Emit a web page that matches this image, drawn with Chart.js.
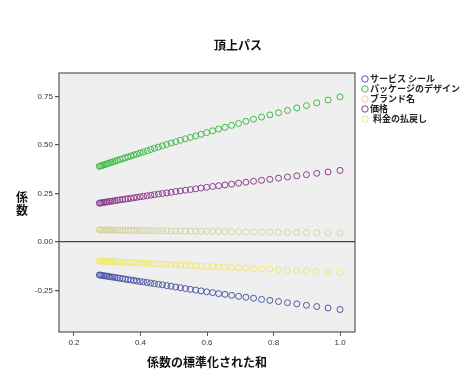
<!DOCTYPE html>
<html><head><meta charset="utf-8">
<script src="https://cdn.jsdelivr.net/npm/chart.js@4/dist/chart.umd.min.js"></script>
<style>html,body{margin:0;padding:0;background:#fff;}canvas{display:block;}</style>
</head><body>
<canvas id="c" width="475" height="380"></canvas>
<script>
const chartTitle = '頂上パス';
const xTitle = '係数の標準化された和';
const yTitle = ['係', '数'];
const seriesNames = ['サービス シール', 'パッケージのデザイン', 'ブランド名', '価格', '料金の払戻し'];
const xTicks = [0.2, 0.4, 0.6, 0.8, 1.0];
const yTicks = [-0.25, 0.0, 0.25, 0.5, 0.75];

const xs = [0.276,0.280,0.284,0.289,0.294,0.299,0.305,0.311,0.317,0.324,0.331,0.338,0.346,0.354,0.362,0.371,0.380,0.389,0.399,0.409,0.420,0.431,0.442,0.454,0.466,0.479,0.492,0.506,0.520,0.535,0.550,0.566,0.582,0.599,0.617,0.635,0.654,0.674,0.695,0.717,0.740,0.764,0.789,0.815,0.842,0.870,0.899,0.930,0.964,1.000];

const serviceSeal = [-0.170,-0.171,-0.172,-0.174,-0.175,-0.176,-0.178,-0.180,-0.181,-0.183,-0.185,-0.187,-0.189,-0.191,-0.194,-0.196,-0.198,-0.201,-0.204,-0.206,-0.209,-0.212,-0.215,-0.218,-0.221,-0.225,-0.228,-0.232,-0.236,-0.240,-0.244,-0.248,-0.252,-0.257,-0.261,-0.266,-0.270,-0.275,-0.280,-0.285,-0.290,-0.296,-0.301,-0.307,-0.313,-0.319,-0.326,-0.333,-0.340,-0.348];
const packageDesign = [0.390,0.392,0.394,0.397,0.400,0.403,0.406,0.410,0.413,0.417,0.421,0.425,0.429,0.434,0.438,0.443,0.448,0.453,0.459,0.464,0.470,0.477,0.483,0.489,0.496,0.503,0.510,0.517,0.524,0.532,0.539,0.547,0.555,0.564,0.573,0.582,0.591,0.601,0.611,0.622,0.633,0.644,0.655,0.666,0.678,0.691,0.703,0.717,0.732,0.748];
const brandName = [0.062,0.062,0.062,0.062,0.062,0.062,0.061,0.061,0.061,0.061,0.061,0.061,0.061,0.060,0.060,0.060,0.060,0.060,0.059,0.059,0.059,0.059,0.058,0.058,0.058,0.058,0.057,0.057,0.057,0.056,0.056,0.056,0.055,0.055,0.055,0.054,0.054,0.053,0.053,0.052,0.052,0.051,0.051,0.050,0.050,0.049,0.048,0.048,0.047,0.046];
const price = [0.200,0.201,0.202,0.204,0.205,0.206,0.208,0.210,0.211,0.213,0.215,0.217,0.219,0.221,0.223,0.225,0.228,0.230,0.233,0.235,0.238,0.241,0.244,0.247,0.250,0.253,0.256,0.260,0.263,0.267,0.270,0.274,0.278,0.282,0.286,0.290,0.294,0.298,0.303,0.308,0.313,0.318,0.323,0.329,0.335,0.341,0.347,0.354,0.361,0.369];
const refund = [-0.098,-0.098,-0.099,-0.099,-0.100,-0.100,-0.101,-0.101,-0.102,-0.102,-0.103,-0.103,-0.104,-0.105,-0.105,-0.106,-0.107,-0.108,-0.108,-0.109,-0.110,-0.111,-0.112,-0.113,-0.114,-0.115,-0.116,-0.117,-0.118,-0.120,-0.121,-0.122,-0.124,-0.125,-0.127,-0.128,-0.130,-0.131,-0.133,-0.135,-0.137,-0.139,-0.141,-0.143,-0.145,-0.148,-0.150,-0.153,-0.156,-0.159];

const seriesValues = [serviceSeal, packageDesign, brandName, price, refund];
const seriesColors = ['#4d58a8', '#3fbb48', '#d8d5a2', '#8c3d90', '#eeea6e'];

const JP = '"Noto Sans CJK JP", sans-serif';
const NUM = '"Liberation Sans", Arial, sans-serif';

const datasets = seriesNames.map((name, k) => ({
  label: name,
  data: xs.map((x, i) => ({x: x, y: seriesValues[k][i]})),
  showLine: false,
  pointStyle: 'circle',
  pointRadius: 3,
  pointBorderWidth: 1,
  borderColor: seriesColors[k],
  backgroundColor: 'rgba(0,0,0,0)',
  pointBackgroundColor: 'rgba(0,0,0,0)',
  pointBorderColor: seriesColors[k]
}));

const decor = {
  id: 'decor',
  beforeDraw(chart) {
    const a = chart.chartArea, ctx = chart.ctx;
    ctx.save();
    ctx.fillStyle = '#efefef';
    ctx.fillRect(a.left, a.top, a.right - a.left, a.bottom - a.top);
    ctx.restore();
  },
  afterDatasetsDraw(chart) {
    const a = chart.chartArea, ctx = chart.ctx;
    ctx.save();
    ctx.strokeStyle = '#555';
    ctx.lineWidth = 1.2;
    ctx.strokeRect(a.left, a.top, a.right - a.left, a.bottom - a.top);
    ctx.restore();
  },
  afterDraw(chart) {
    const a = chart.chartArea, ctx = chart.ctx;
    ctx.save();
    ctx.fillStyle = '#111';
    ctx.textAlign = 'center';
    ctx.textBaseline = 'middle';
    ctx.font = 'bold 12px ' + JP;
    ctx.fillText(chartTitle, 238, 45);
    ctx.font = 'bold 12px ' + JP;
    yTitle.forEach((ch, i) => ctx.fillText(ch, 22, 197 + i * 13));
    // legend
    ctx.textAlign = 'left';
    ctx.font = 'bold 9px ' + JP;
    seriesNames.forEach((name, k) => {
      const y = 79 + k * 10;
      ctx.beginPath();
      ctx.arc(365, y, 3.2, 0, Math.PI * 2);
      ctx.strokeStyle = seriesColors[k];
      ctx.lineWidth = 1;
      ctx.stroke();
      ctx.fillStyle = '#222';
      ctx.fillText(name, k === 4 ? 373 : 370, y);
    });
    ctx.restore();
  }
};

new Chart(document.getElementById('c'), {
  type: 'scatter',
  data: {datasets},
  plugins: [decor],
  options: {
    responsive: false,
    animation: false,
    devicePixelRatio: 1,
    layout: {padding: {top: 73, right: 120, bottom: 10, left: 0}},
    plugins: {legend: {display: false}, title: {display: false}, tooltip: {enabled: false}},
    scales: {
      x: {
        type: 'linear', min: 0.155, max: 1.045,
        afterBuildTicks: s => { s.ticks = xTicks.map(v => ({value: v})); },
        afterFit: s => { s.height = 38; },
        ticks: {callback: v => Number(v).toFixed(1), font: {family: NUM, size: 8}, color: '#333', padding: 2, maxRotation: 0},
        grid: {drawOnChartArea: false, color: '#555', tickColor: '#555', tickLength: 4},
        border: {display: false},
        title: {display: true, text: xTitle, font: {family: JP, size: 12, weight: 'bold'}, color: '#111', padding: {top: 4, bottom: 0}}
      },
      y: {
        type: 'linear', min: -0.464, max: 0.871,
        afterBuildTicks: s => { s.ticks = yTicks.map(v => ({value: v})); },
        afterFit: s => { s.width = 59; },
        ticks: {callback: v => Number(v).toFixed(2), font: {family: NUM, size: 8}, color: '#333', padding: 2},
        grid: {color: c => (c.tick && Math.abs(c.tick.value) < 1e-9) ? '#444' : 'rgba(0,0,0,0)', lineWidth: 1.3, tickColor: '#555', tickLength: 4},
        border: {display: false}
      }
    }
  }
});
</script>
</body></html>
